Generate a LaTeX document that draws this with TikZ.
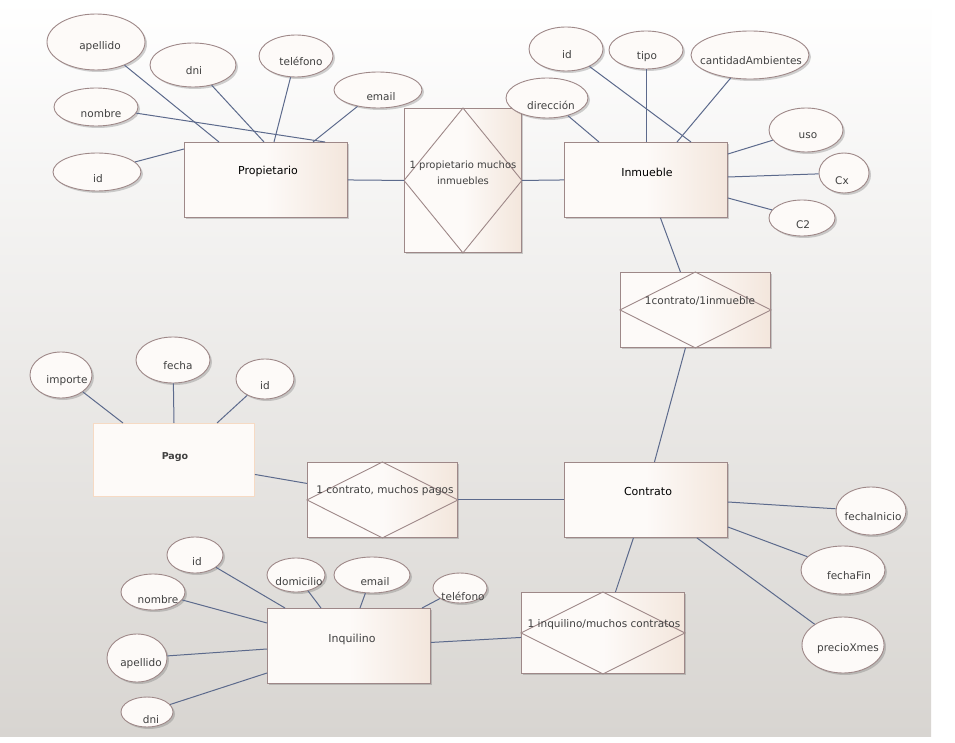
\documentclass[tikz,border=0pt]{standalone}
\usepackage{fontspec}
\setmainfont{DejaVu Sans}
\usetikzlibrary{shapes.geometric,shadows}
\definecolor{bdr}{RGB}{158,136,136}
\definecolor{efill}{RGB}{253,250,248}
\definecolor{boxr}{RGB}{243,230,220}
\definecolor{lnk}{RGB}{92,106,140}
\definecolor{txt}{RGB}{64,64,64}
\definecolor{bgbot}{RGB}{216,213,209}
\definecolor{pagob}{RGB}{246,218,196}
\newcommand\erattr[8]{%
  \node[attr, minimum width=#4*2pt, minimum height=#5*2pt] (#1) at (#2,#3) {};
  \node[attrtext] (#1t) at (#6,#7) {#8};}
\begin{document}
\begin{tikzpicture}[x=1pt,y=-1pt,
  shad/.style={drop shadow={shadow xshift=2pt, shadow yshift=-2pt, opacity=0.3, fill=black!60}},
  attr/.style={ellipse, draw=bdr, fill=efill, line width=0.9pt, inner sep=0pt, shad},
  attrtext/.style={inner sep=0pt, text=txt, font=\fontsize{10.5}{12}\selectfont},
  enttext/.style={inner sep=0pt, text=black, font=\fontsize{11}{12}\selectfont},
  reltext/.style={inner sep=0pt, text=txt, font=\fontsize{10.5}{15}\selectfont, align=center},
  ent/.style={rectangle, draw=bdr, line width=0.9pt, left color=efill, right color=boxr, middle color=efill, anchor=north west, inner sep=0pt, shad},
  pagobox/.style={rectangle, draw=pagob, line width=0.9pt, fill=efill, anchor=north west, inner sep=0pt},
  dia/.style={draw=bdr, line width=0.9pt},
  cn/.style={draw=lnk, line width=1pt}
]
\useasboundingbox (0,0) rectangle (955,743);
\fill[white] (0,0) rectangle (955,743);
\shade[top color=white, bottom color=bgbot] (0,0) rectangle (931,736);

% entities
\node[ent, minimum width=163pt, minimum height=75pt] (prop) at (184,142) {};
\node[ent, minimum width=163pt, minimum height=75pt] (inm) at (564,142) {};
\node[ent, minimum width=163pt, minimum height=75pt] (con) at (564,462) {};
\node[ent, minimum width=163pt, minimum height=75pt] (inq) at (267,608) {};
\node[pagobox, minimum width=161pt, minimum height=73pt] (pago) at (93,423) {};

% relationships
\node[ent, minimum width=117pt, minimum height=144pt] (r1) at (404,108) {};
\node[ent, minimum width=150pt, minimum height=75pt] (r2) at (620,272) {};
\node[ent, minimum width=150pt, minimum height=75pt] (r3) at (307,462) {};
\node[ent, minimum width=163pt, minimum height=81pt] (r4) at (521,592) {};
\foreach \r in {r1,r2,r3,r4}
  \draw[dia] (\r.north) -- (\r.east) -- (\r.south) -- (\r.west) -- cycle;

% entity and relationship texts
\node[enttext] (propt) at (268,171) {Propietario};
\node[enttext] (inmt) at (647,172) {Inmueble};
\node[enttext] (cont) at (648,491) {Contrato};
\node[enttext, text=txt] (inqt) at (352,639) {Inquilino};
\node[enttext, text=txt, font=\fontsize{9.5}{12}\selectfont\bfseries] (pagot) at (175,457) {Pago};
\node[reltext, font=\fontsize{10}{16}\selectfont] (r1t) at (463,173) {1 propietario muchos\\inmuebles};
\node[reltext] (r2t) at (700,301) {1contrato/1inmueble};
\node[reltext] (r3t) at (385,491) {1 contrato, muchos pagos};
\node[reltext] (r4t) at (604,625) {1 inquilino/muchos contratos};

% attributes: name, cx, cy, rx, ry, tx, ty, text
\erattr{pApe}{96}{42}{49}{28}{100}{47}{apellido}
\erattr{pDni}{193}{65}{43}{22}{194}{71}{dni}
\erattr{pTel}{296}{56}{37}{21}{301}{61}{teléfono}
\erattr{pMail}{378}{90}{44}{18}{381}{97}{email}
\erattr{pNom}{96}{107}{42}{19}{101}{114}{nombre}
\erattr{pId}{97}{172}{44}{19}{98}{179}{id}

\erattr{iId}{566}{49}{37}{22}{567}{55}{id}
\erattr{iTipo}{646}{50}{37}{19}{647}{57}{tipo}
\erattr{iCant}{750}{55}{59}{24}{751}{61}{cantidadAmbientes}
\erattr{iDir}{547}{98}{41}{20}{551}{105}{dirección}
\erattr{iUso}{806}{130}{37}{22}{808}{136}{uso}
\erattr{iCx}{844}{173}{25}{20}{842}{181}{Cx}
\erattr{iC2}{802}{218}{33}{18}{803}{225}{C2}

\erattr{cIni}{871}{511}{35}{24}{873}{517}{fechaInicio}
\erattr{cFin}{843}{570}{42}{24}{849}{576}{fechaFin}
\erattr{cPre}{843}{645}{41}{28}{848}{649}{precioXmes}

\erattr{gImp}{61}{375}{31}{23}{67}{381}{importe}
\erattr{gFec}{173}{360}{37}{23}{178}{366}{fecha}
\erattr{gId}{265}{379}{29}{20}{265}{386}{id}

\erattr{qId}{195}{555}{28}{18}{197}{562}{id}
\erattr{qNom}{153}{592}{32}{18}{158}{600}{nombre}
\erattr{qApe}{137}{658}{30}{24}{141}{664}{apellido}
\erattr{qDni}{147}{712}{26}{15}{151}{720}{dni}
\erattr{qDom}{296}{575}{29}{17}{299}{582}{domicilio}
\erattr{qMail}{372}{575}{38}{18}{375}{582}{email}
\erattr{qTel}{460}{588}{27}{15}{463}{596}{teléfono}

% connectors between entities and relationships
\draw[cn] (prop.east) -- (r1.west);
\draw[cn] (r1.east) -- (inm.west);
\draw[cn] ([xshift=14.5pt]inm.south) -- ([xshift=-15pt]r2.north);
\draw[cn] ([xshift=-10pt]r2.south) -- ([xshift=8.5pt]con.north);
\draw[cn] ([xshift=-12.5pt]con.south) -- ([xshift=12.5pt]r4.north);
\draw[cn] ([yshift=3.5pt]inq.east) -- ([yshift=-4.5pt]r4.west);
\draw[cn] ([yshift=-14.5pt]pago.east) -- ([yshift=16.5pt]r3.west);
\draw[cn] (r3.east) -- (con.west);

% Propietario attributes
\draw[cn] ([xshift=35pt]prop.north west) -- (pApe);
\draw[cn] ([xshift=80pt]prop.north west) -- (pDni);
\draw[cn] ([xshift=90pt]prop.north west) -- (pTel);
\draw[cn] ([xshift=129pt]prop.north west) -- (pMail);
\draw[cn] ([xshift=141pt]prop.north west) -- (pNom);
\draw[cn] ([yshift=-7pt]prop.north west) -- (pId);

% Inmueble attributes
\draw[cn] ([xshift=127pt]inm.north west) -- (iId);
\draw[cn] ([xshift=82pt]inm.north west) -- (iTipo);
\draw[cn] ([xshift=113pt]inm.north west) -- (iCant);
\draw[cn] ([xshift=35pt]inm.north west) -- (iDir);
\draw[cn] ([yshift=-12pt]inm.north east) -- (iUso);
\draw[cn] ([yshift=-35pt]inm.north east) -- (iCx);
\draw[cn] ([yshift=-56pt]inm.north east) -- (iC2);

% Contrato attributes
\draw[cn] ([yshift=-40pt]con.north east) -- (cIni);
\draw[cn] ([yshift=-65pt]con.north east) -- (cFin);
\draw[cn] ([xshift=-31pt]con.south east) -- (cPre);

% Pago attributes
\draw[cn] ([xshift=30pt]pago.north west) -- (gImp);
\draw[cn] ([xshift=81pt]pago.north west) -- (gFec);
\draw[cn] ([xshift=124pt]pago.north west) -- (gId);

% Inquilino attributes
\draw[cn] ([xshift=18pt]inq.north west) -- (qId);
\draw[cn] ([xshift=54pt]inq.north west) -- (qDom);
\draw[cn] ([xshift=93pt]inq.north west) -- (qMail);
\draw[cn] ([xshift=155pt]inq.north west) -- (qTel);
\draw[cn] ([yshift=-15pt]inq.north west) -- (qNom);
\draw[cn] ([yshift=-41pt]inq.north west) -- (qApe);
\draw[cn] ([yshift=-65pt]inq.north west) -- (qDni);
\end{tikzpicture}
\end{document}
